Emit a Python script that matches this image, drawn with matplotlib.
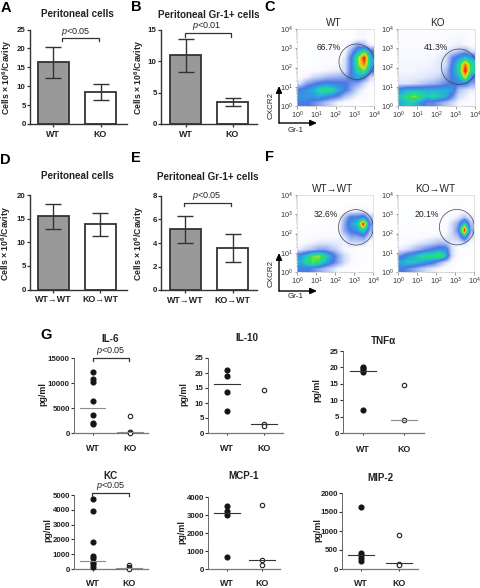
import numpy as np
import matplotlib
matplotlib.use("Agg")
import matplotlib.pyplot as plt
from matplotlib.colors import LinearSegmentedColormap
from matplotlib.patches import Circle

plt.rcParams['font.family'] = ['Liberation Sans', 'DejaVu Sans']
plt.rcParams['mathtext.fontset'] = 'custom'
plt.rcParams['mathtext.rm'] = 'Liberation Sans'
plt.rcParams['mathtext.bf'] = 'Liberation Sans:bold'
plt.rcParams['mathtext.it'] = 'Liberation Sans:italic'

W, H = 480, 588
DARK = '#333333'

# ---------- bar data ----------
bar_a_means = [16.4, 8.5]
bar_a_low = [12.3, 6.3]
bar_a_high = [20.3, 10.7]
bar_b_means = [11.0, 3.5]
bar_b_low = [8.3, 2.8]
bar_b_high = [13.5, 4.2]
bar_d_means = [15.5, 13.8]
bar_d_low = [12.8, 11.4]
bar_d_high = [18.2, 16.1]
bar_e_means = [5.2, 3.55]
bar_e_low = [4.0, 2.35]
bar_e_high = [6.3, 4.75]
labels_plain = ['WT', 'KO']
labels_chimera = ['WT→WT', 'KO→WT']

# ---------- scatter data ----------
il6_wt = [12300, 10800, 10300, 6500, 3600, 2000, 1900]
il6_ko = [3400, 300, 200, 100]
il6_lines = [5100, 300]
il10_wt = [21, 19, 13.7, 7.3]
il10_ko = [14.4, 3, 2.5]
il10_lines = [16.3, 3]
tnf_wt = [20.2, 19.7, 19.2, 18.7, 7]
tnf_ko = [14.7, 4]
tnf_lines = [19, 4]
kc_wt = [4750, 3900, 1850, 900, 750, 500, 350, 150]
kc_ko = [250, 150, 50, 0]
kc_lines = [570, 100]
mcp_wt = [3480, 3200, 2980, 650]
mcp_ko = [3530, 490, 240]
mcp_lines = [3100, 500]
mip_wt = [1620, 430, 380, 300, 210]
mip_ko = [894, 140, 100]
mip_lines = [360, 150]

# ---------- flow density read by eye (rows top to bottom, Gr-1 left to right) ----------
flow_c_wt = [
 [0,0,0,0,0,0,0,0,0,.4,.5,.1],
 [0,0,0,0,0,0,0,0,.1,.4,.5,.1],
 [.1,.1,.1,.1,.1,.1,.2,.3,1,2,1.5,.5],
 [.1,.1,.1,.1,.1,.2,.2,.5,2,4,5.5,3],
 [.1,.1,.1,.1,.2,.2,.3,.8,3,6,9,4],
 [.1,.1,.1,.2,.2,.3,.4,1,3,6,8,4],
 [.2,.2,.3,.4,.5,.6,.7,1,3,5,6,3],
 [.3,.5,1,1.2,1.5,1.7,1.8,2,3,4,3,1],
 [1,2,2.5,3,3.2,3.2,3,3,2.3,2,1,.4],
 [3,3.5,4,5,5.5,5,4,3,2,1,.5,.2],
 [3.5,3.5,3.5,4,3.5,3,2.5,1.5,1,.5,.3,.1],
 [3,3,2.5,2,1.5,1,.5,.3,.2,.1,.1,0],
]
flow_c_ko = [
 [.2,.2,.2,.2,.2,.2,.2,.2,.3,.3,.3,.2],
 [.2,.2,.2,.2,.2,.2,.2,.3,.4,.5,.4,.2],
 [.3,.3,.3,.3,.3,.3,.3,.4,.5,.6,.5,.3],
 [.4,.4,.4,.4,.4,.4,.5,.7,1,1.5,2,1],
 [.4,.4,.4,.4,.5,.5,.7,1,2.5,3.5,4.5,3.5],
 [.5,.5,.5,.5,.5,.6,.8,1,3,5,8,5],
 [.5,.5,.5,.6,.6,.7,.8,1.5,3.2,5,9,5],
 [.6,.6,.7,.7,.8,.9,1.2,2,3,4,7,3],
 [.8,.8,1,1.2,1.5,1.7,2,2.5,3,3,3,2],
 [3.5,4,4,4,4,4,4,4,3.5,1.5,1,.7],
 [4.5,5.5,6.3,5.5,4.5,5,4.5,4,2.5,1,.7,.3],
 [4,4.5,4.5,3.5,2.5,2.5,2,1.5,1,.5,.3,.2],
]
flow_f_wt = [
 [0,0,0,0,0,0,0,0,.1,.1,.1,0],
 [0,0,0,0,0,0,0,0,.1,.1,.1,0],
 [.1,.1,.1,.1,.1,.1,.1,.2,.5,.7,.7,.2],
 [.1,.1,.1,.1,.1,.1,.2,1.5,3,3,3.5,1.5],
 [.1,.1,.1,.1,.1,.2,.2,2,3.5,4.5,9,2.5],
 [.1,.1,.1,.2,.2,.2,.3,2,3,3.5,5,2],
 [.2,.2,.3,.3,.4,.4,.4,1,2,2,2.5,1],
 [.3,.4,.6,.8,.8,.8,.7,.5,1,1,1,.3],
 [.7,1.2,1.5,2,2,1.5,1,.5,.3,.2,.1,.1],
 [3.5,4.5,6,6.3,5,3.5,2,1,.5,.2,.1,0],
 [4,5,6,5.5,4,3,2,1,.5,.2,.1,0],
 [3,3,2.5,2,1.5,1,.5,.3,.1,.1,0,0],
]
flow_f_ko = [
 [0,0,0,0,0,0,0,0,0,.1,.1,0],
 [0,0,0,0,0,0,0,0,.1,.1,.1,0],
 [.1,.1,.1,.1,.1,.1,.1,.1,.2,.3,.3,.1],
 [.1,.1,.1,.1,.1,.1,.1,.2,.4,.7,1.5,.7],
 [.1,.1,.1,.1,.1,.1,.2,.3,1,2,5,1.5],
 [.1,.1,.1,.2,.2,.2,.2,.3,1,2.5,9,2],
 [.2,.2,.3,.3,.4,.5,.6,.6,1,1.5,4,1],
 [.3,.4,.6,.8,1,1.3,1.6,1.5,.7,.7,1,.3],
 [.7,1,1.5,2,2.5,3,3.5,3.5,1,.3,.1,.1],
 [2.5,3.5,4,5,5.5,5.5,6,4.5,1,.3,.1,0],
 [4,4.5,4.5,4,3.5,3,2,1,.4,.1,.1,0],
 [3,2.5,2,1.5,1,.7,.4,.2,.1,.1,0,0],
]

flow_cmap = LinearSegmentedColormap.from_list('flow', [
    (0.00, '#ffffff'), (0.05, '#f8f9ff'), (0.10, '#dbe3fb'), (0.20, '#9fb4f2'),
    (0.33, '#4a78e2'), (0.44, '#2ba4e2'), (0.55, '#22d2b0'), (0.66, '#30dc60'),
    (0.77, '#d0e820'), (0.88, '#ffa010'), (1.00, '#e8301a')])

fig = plt.figure(figsize=(W / 100, H / 100), dpi=100, facecolor='white')


def px_axes(l, t, r, b):
    return fig.add_axes([l / W, 1 - b / H, (r - l) / W, (b - t) / H])


def txt(x, y, s, **kw):
    kw.setdefault('ha', 'center')
    kw.setdefault('va', 'center')
    kw.setdefault('color', '#222222')
    fig.text(x / W, 1 - y / H, s, **kw)


def bracket(x0, x1, y, drop):
    xs = np.array([x0, x0, x1, x1]) / W
    ys = 1 - np.array([y + drop, y, y, y + drop]) / H
    fig.add_artist(plt.Line2D(xs, ys, color=DARK, lw=0.9))


def clean(ax):
    for s in ('top', 'right'):
        ax.spines[s].set_visible(False)
    for s in ('left', 'bottom'):
        ax.spines[s].set_linewidth(1.0)
        ax.spines[s].set_color(DARK)


def bar_panel(box, c0, c1, means, low, high, ymax, yticks, labels, fs):
    l, t, r, b = box
    ax = px_axes(l, t, r, b)
    span = c1 - c0
    ax.set_xlim((l - c0) / span, (r - c0) / span)
    ax.set_ylim(0, ymax)
    x = [0, 1]
    ax.bar(x, means, width=31 / span, color=['#999999', 'white'],
           edgecolor=DARK, linewidth=1.3, zorder=2)
    err = [np.array(means) - np.array(low), np.array(high) - np.array(means)]
    ax.errorbar(x, means, yerr=err, fmt='none', ecolor=DARK, elinewidth=1.0,
                capsize=6, capthick=1.0, zorder=3)
    ax.set_xticks(x, labels, fontsize=fs, fontweight='bold', color='#222222')
    ax.set_yticks(yticks)
    ax.tick_params(axis='y', labelsize=5.7, length=2, width=0.9, pad=1, color=DARK,
                   labelcolor='#222222')
    ax.tick_params(axis='x', length=2, width=0.9, pad=2, color=DARK)
    for lb in ax.get_yticklabels():
        lb.set_fontweight('bold')
    clean(ax)
    return ax


YL = r'Cells × 10$^{\mathbf{6}}$/Cavity'
bar_panel((30, 29.5, 127, 124), 53.3, 100.5, bar_a_means, bar_a_low, bar_a_high, 25,
          [0, 5, 10, 15, 20, 25], labels_plain, 6.4)
bar_panel((161, 30, 257, 124), 185.5, 232.5, bar_b_means, bar_b_low, bar_b_high, 15,
          [0, 5, 10, 15], labels_plain, 6.4)
bar_panel((30, 195, 127, 289.5), 53, 100, bar_d_means, bar_d_low, bar_d_high, 20,
          [0, 5, 10, 15, 20], labels_chimera, 6.4)
bar_panel((161, 196, 257, 290), 185, 232.5, bar_e_means, bar_e_low, bar_e_high, 8,
          [0, 2, 4, 6, 8], labels_chimera, 6.4)

for x, y in [(7, 77), (139, 77), (6, 243), (139, 243)]:
    txt(x, y, YL, rotation=90, fontsize=6.3, fontweight='bold')

TITLE = dict(fontsize=7.1, fontweight='bold')
txt(77, 14, 'Peritoneal cells', **TITLE)
txt(209, 15, 'Peritoneal Gr-1+ cells', **TITLE)
txt(77, 176, 'Peritoneal cells', **TITLE)
txt(208, 177, 'Peritoneal Gr-1+ cells', **TITLE)

P5 = r'$\mathit{p}$<0.05'
P1 = r'$\mathit{p}$<0.01'
txt(76, 32, P5, fontsize=6.5)
bracket(62, 99, 38, 3)
txt(207, 26, P1, fontsize=6.5)
bracket(185, 231, 33, 3.5)
txt(207, 196, P5, fontsize=6.5)
bracket(184, 231, 203, 3)

for x, y, s in [(6, 8, 'A'), (136, 7, 'B'), (270, 7, 'C'), (5, 160, 'D'),
                (136, 158, 'E'), (270, 157, 'F'), (46, 335, 'G')]:
    txt(x, y, s, fontsize=10.5, fontweight='bold', color='black')


# ---------- flow panels ----------
def flow_panel(box, grid, cx, cy):
    ax = px_axes(*box)
    ax.imshow(np.array(grid), extent=(0, 4, 0, 4), origin='upper', cmap=flow_cmap,
              vmin=0, vmax=8.6, interpolation='bilinear', aspect='auto')
    ax.add_patch(Circle((cx, cy), 0.92, fill=False, ec='#444444', lw=0.5))
    ax.set_xlim(0, 4)
    ax.set_ylim(0, 4)
    ticks = [0, 1, 2, 3, 4]
    lbl = [rf'$\mathregular{{10^{{{k}}}}}$' for k in ticks]
    minor = [k + np.log10(m) for k in range(4) for m in range(2, 10)]
    ax.set_xticks(ticks, lbl)
    ax.set_yticks(ticks, lbl)
    ax.set_xticks(minor, minor=True)
    ax.set_yticks(minor, minor=True)
    ax.tick_params(labelsize=5.2, length=1.8, width=0.4, pad=1, color='#555555',
                   labelcolor='#333333')
    ax.tick_params(which='minor', length=1, width=0.3, color='#777777')
    for s in ax.spines.values():
        s.set_linewidth(0.4)
        s.set_color('#cccccc')


flow_panel((297, 29, 374, 106), flow_c_wt, 3.1, 2.3)
flow_panel((398, 29, 475, 106), flow_c_ko, 3.17, 2.04)
flow_panel((297, 195, 373, 272), flow_f_wt, 3.1, 2.32)
flow_panel((398, 195, 474, 272), flow_f_ko, 3.1, 2.33)

FT = dict(fontsize=7.2, color='#222222')
txt(334, 23, 'WT', **FT)
txt(437, 23, 'KO', **FT)
txt(333, 189, 'WT→WT', **FT)
txt(435, 189, 'KO→WT', **FT)
PC = dict(fontsize=6.2, color='#222222')
txt(329, 48, '66.7%', **PC)
txt(436, 48, '41.3%', **PC)
txt(326, 214, '32.6%', **PC)
txt(427, 214, '20.1%', **PC)


def gate_arrows(x, y_top, y0, x_end, lab_y):
    arrow = dict(arrowstyle='-|>,head_width=0.18,head_length=0.4', lw=1.0, color='black',
                 shrinkA=0, shrinkB=0)
    ann = lambda a, b: fig.add_artist(matplotlib.text.Annotation(
        '', xy=(a[0] / W, 1 - a[1] / H), xytext=(b[0] / W, 1 - b[1] / H),
        xycoords='figure fraction', textcoords='figure fraction', arrowprops=arrow))
    ann((x, y_top), (x, y0))
    ann((x_end, y0), (x, y0))
    txt(271, y0 - 18, 'CXCR2', rotation=90, fontsize=5.8)
    txt(296, lab_y, 'Gr-1', fontsize=5.8)


gate_arrows(279, 86, 123, 317, 130)
gate_arrows(279, 253, 291, 317, 296)


# ---------- dot panels ----------
def dot_panel(box, c0, c1, wt, ko, lines, ymax, yticks, line_cols, lab_gap):
    l, t, r, b = box
    ax = px_axes(l, t, r, b)
    span = c1 - c0
    ax.set_xlim((l - c0) / span, (r - c0) / span)
    ax.set_ylim(0, ymax)
    ax.plot([0] * len(wt), wt, 'o', ms=3.4, color='#151515', clip_on=False, zorder=3)
    ax.plot([1] * len(ko), ko, 'o', ms=3.2, mfc='white', mec='#222222', mew=0.8,
            clip_on=False, zorder=3)
    half = 12.7 / span
    for i, (v, col) in enumerate(zip(lines, line_cols)):
        ax.plot([i - half, i + half], [v, v], color=col, lw=0.8, zorder=4,
                clip_on=False)
    ax.set_xticks([0, 1], labels_plain, fontsize=6.4, fontweight='bold', color='#222222')
    ax.set_yticks(yticks)
    ax.tick_params(axis='y', labelsize=5.7, length=2, width=0.8, pad=1, color=DARK,
                   labelcolor='#222222')
    ax.tick_params(axis='x', length=1.5, width=0.7, pad=lab_gap, color=DARK)
    for lb in ax.get_yticklabels():
        lb.set_fontweight('bold')
    clean(ax)
    ax.spines['left'].set_linewidth(0.7)
    ax.spines['left'].set_color('#666666')
    ax.spines['bottom'].set_linewidth(0.9)
    ax.spines['bottom'].set_color('#777777')


GR, DK = '#8c8c8c', '#333333'
dot_panel((74, 358.3, 148, 433), 92.7, 130, il6_wt, il6_ko, il6_lines, 15000,
          [0, 5000, 10000, 15000], [GR, GR], 6.5)
dot_panel((208, 358, 283, 433), 227, 264, il10_wt, il10_ko, il10_lines, 25,
          [0, 5, 10, 15, 20, 25], [DK, DK], 6.5)
dot_panel((343, 351, 424, 433), 363, 404, tnf_wt, tnf_ko, tnf_lines, 25,
          [0, 5, 10, 15, 20, 25], [DK, GR], 7)
dot_panel((74, 495, 148, 569), 92.7, 129, kc_wt, kc_ko, kc_lines, 5000,
          [0, 1000, 2000, 3000, 4000, 5000], [GR, GR], 5.5)
dot_panel((208, 497, 280, 569), 227, 262, mcp_wt, mcp_ko, mcp_lines, 4000,
          [0, 1000, 2000, 3000, 4000], [DK, DK], 5.5)
dot_panel((342, 493, 418, 569), 361, 399, mip_wt, mip_ko, mip_lines, 2000,
          [0, 500, 1000, 1500, 2000], [DK, DK], 5.5)

T2 = dict(fontsize=7.1, fontweight='bold')
txt(110, 339, 'IL-6', **T2)
txt(247, 338, 'IL-10', **T2)
txt(383, 341, 'TNFα', **T2)
txt(111, 476, 'KC', **T2)
txt(244, 476, 'MCP-1', **T2)
txt(380, 478, 'MIP-2', **T2)

txt(111, 351, P5, fontsize=6.5)
bracket(93, 129, 358, 3)
txt(111, 486, P5, fontsize=6.5)
bracket(92, 129, 493, 3)

for x, y in [(43, 394), (184, 394), (317, 390), (48, 530), (182, 532), (318, 530)]:
    txt(x, y, 'pg/ml', rotation=90, fontsize=6.4, fontweight='bold')

fig.savefig('out.png', dpi=100, facecolor='white')
